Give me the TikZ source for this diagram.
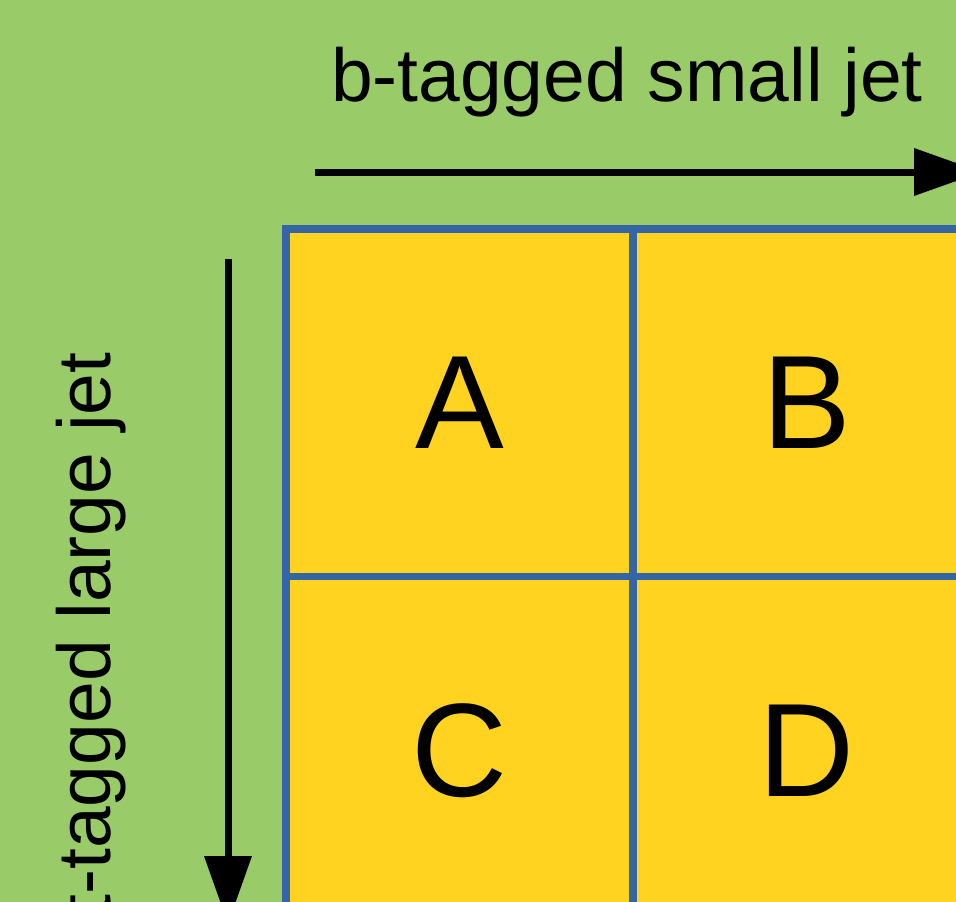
\documentclass[tikz,border=0pt]{standalone}
\usepackage{fontspec}
\setmainfont{Liberation Sans}
\usetikzlibrary{arrows.meta}
\definecolor{bggreen}{HTML}{99CC69}
\definecolor{cellyellow}{HTML}{FFD320}
\definecolor{gridblue}{HTML}{3465A4}
\tikzset{
  cell/.style={draw=gridblue, line width=7.5pt, fill=cellyellow, minimum width=347pt, minimum height=347.5pt, inner sep=0pt, font=\fontsize{133}{140}\selectfont},
  axisarrow/.style={line width=7pt, -{Triangle[length=68pt,width=46pt]}},
  axislabel/.style={inner sep=0pt, font=\fontsize{75}{80}\selectfont}
}
\begin{document}
\begin{tikzpicture}[x=1pt,y=-1pt]
\useasboundingbox (0,0) rectangle (956,902);
\clip (0,0) rectangle (956,902);
\fill[bggreen] (0,0) rectangle (956,902);
\node[cell] (A) at (459.5,402.75) {A};
\node[cell] (B) at (806.5,402.75) {B};
\node[cell] (C) at (459.5,750.25) {C};
\node[cell] (D) at (806.5,750.25) {D};
\coordinate (hstart) at (315,172);
\coordinate (hend) at (982,172);
\coordinate (vstart) at (228,259);
\coordinate (vend) at (228,924);
\draw[axisarrow] (hstart) -- (hend);
\draw[axisarrow] (vstart) -- (vend);
\node[axislabel, anchor=base] (top) at (627,101) {b-tagged small jet};
\node[axislabel, anchor=base, rotate=90] (left) at (110,634) {t-tagged large jet};
\end{tikzpicture}
\end{document}
